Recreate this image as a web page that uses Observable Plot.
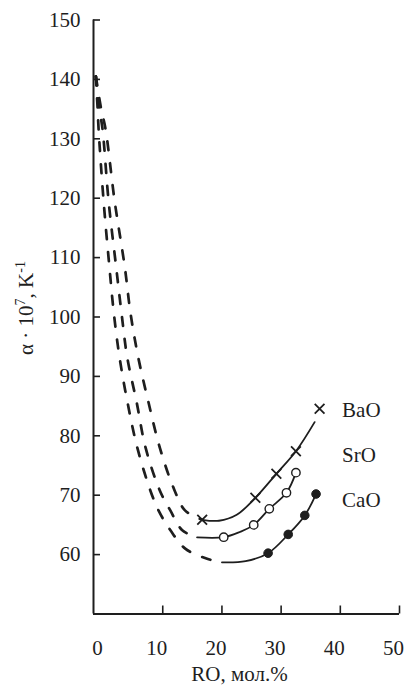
<!DOCTYPE html>
<html><head><meta charset="utf-8">
<script src="https://cdn.jsdelivr.net/npm/d3@7"></script>
<script src="https://cdn.jsdelivr.net/npm/@observablehq/plot@0.6"></script>
<style>
html,body{margin:0;padding:0;background:#fff;}
#chart{width:412px;height:685px;}
</style></head><body><div id="chart"></div>
<script>
// ---- data ----
const xDomain = [-1.7, 50];
const yDomain = [50, 150];
const xTickValues = [10, 20, 30, 40, 50];
const xTickLabels = [0, 10, 20, 30, 40, 50];
const yTickValues = [60, 70, 80, 90, 100, 110, 120, 130, 140, 150];

const seriesNames = ["BaO", "SrO", "CaO"];

// dashed (extrapolated) branches
const baoDashX = [-1.3, -0.4, 0.34, 1.86, 3.6, 4.56, 5.86, 7.6, 9.5, 12.0, 13.8, 16.66];
const baoDashY = [140.5, 135, 131.6, 119.6, 108.3, 100.6, 93.2, 85.6, 78.0, 70.8, 67.4, 65.86];
const sroDashX = [-1.3, -0.7, -0.17, 0.84, 2.14, 3.04, 4.0, 5.6, 7.1, 9.5, 11.3, 13.3, 15.8];
const sroDashY = [140.5, 135, 131.6, 119.6, 108.3, 100.6, 93.2, 85.6, 78.0, 70.8, 67.4, 64.1, 62.9];
const caoDashX = [-1.3, -1.0, -0.84, 0.0, 1.0, 1.74, 2.7, 4.05, 5.7, 7.9, 9.3, 11.3, 13.8, 17.5, 20.0];
const caoDashY = [140.5, 135, 131.6, 119.6, 108.3, 100.6, 93.2, 85.6, 78.0, 70.8, 67.4, 64.1, 61.0, 59.3, 58.7];

// solid (measured) branches
const baoSolidX = [16.66, 19.5, 22.5, 25.65, 29.2, 32.5, 35.66];
const baoSolidY = [65.86, 65.7, 66.7, 69.56, 73.6, 77.4, 82.3];
const sroSolidX = [15.8, 20.3, 23.0, 25.37, 28.0, 30.9, 32.5];
const sroSolidY = [62.9, 62.93, 63.8, 65.0, 67.7, 70.4, 73.8];
const caoSolidX = [20.0, 24.0, 27.8, 31.2, 34.0, 35.9];
const caoSolidY = [58.7, 58.9, 60.24, 63.4, 66.6, 70.2];

// measured points
const baoPointX = [16.66, 25.65, 29.2, 32.5, 36.5];
const baoPointY = [65.86, 69.56, 73.6, 77.4, 84.55];
const sroPointX = [20.3, 25.37, 28.0, 30.9, 32.5];
const sroPointY = [62.93, 65.0, 67.7, 70.4, 73.8];
const caoPointX = [27.8, 31.2, 34.0, 35.9];
const caoPointY = [60.24, 63.4, 66.6, 70.2];

// series labels
const labelX = [40.3, 40.3, 40.3];
const labelY = [84.3, 76.7, 69.1];

const xTitle = "RO, мол.%";

// ---- build tables ----
const zip = (name, xs, ys) => xs.map((x, i) => ({s: name, x, y: ys[i]}));
const dashed = [
  ...zip("BaO", baoDashX, baoDashY),
  ...zip("SrO", sroDashX, sroDashY),
  ...zip("CaO", caoDashX, caoDashY)
];
const solid = [
  ...zip("BaO", baoSolidX, baoSolidY),
  ...zip("SrO", sroSolidX, sroSolidY),
  ...zip("CaO", caoSolidX, caoSolidY)
];
const baoPts = zip("BaO", baoPointX, baoPointY);
const sroPts = zip("SrO", sroPointX, sroPointY);
const caoPts = zip("CaO", caoPointX, caoPointY);
const labels = seriesNames.map((n, i) => ({n, x: labelX[i], y: labelY[i]}));

const FONT = "'Liberation Serif', 'Times New Roman', serif";
const INK = "#1e1e1e";

const chart = Plot.plot({
  width: 412,
  height: 685,
  marginLeft: 93,
  marginRight: 13,
  marginTop: 19.5,
  marginBottom: 71.5,
  style: {fontFamily: FONT, fontSize: "21px", color: INK, background: "#fff"},
  x: {domain: xDomain, label: null},
  y: {domain: yDomain, label: null},
  marks: [
    Plot.ruleX([xDomain[0]], {stroke: INK, strokeWidth: 2}),
    Plot.ruleY([yDomain[0]], {stroke: INK, strokeWidth: 2}),
    Plot.axisY(yTickValues, {text: null, tickSize: -7, stroke: INK, strokeWidth: 1.6, label: null}),
    Plot.axisY(yTickValues, {tickSize: 0, tickPadding: 13, fontSize: 21, fontFamily: FONT, fill: INK, label: null}),
    Plot.axisX(xTickValues, {text: null, tickSize: -8, stroke: INK, strokeWidth: 1.6, label: null}),
    Plot.axisX(xTickLabels, {tickSize: 0, tickPadding: 26, dx: -6, fontSize: 21, fontFamily: FONT, fill: INK, label: null}),
    Plot.line(dashed, {x: "x", y: "y", z: "s", curve: "catmull-rom", stroke: INK, strokeWidth: 2.7, strokeDasharray: "9,13"}),
    Plot.line(solid, {x: "x", y: "y", z: "s", curve: "catmull-rom", stroke: INK, strokeWidth: 1.8}),
    Plot.dot(baoPts, {x: "x", y: "y", symbol: "times", r: 4.5, stroke: INK, strokeWidth: 1.8}),
    Plot.dot(sroPts, {x: "x", y: "y", symbol: "circle", r: 4.2, fill: "#fff", stroke: INK, strokeWidth: 1.4}),
    Plot.dot(caoPts, {x: "x", y: "y", symbol: "circle", r: 4.3, fill: INK, stroke: INK, strokeWidth: 1}),
    Plot.text(labels, {x: "x", y: "y", text: "n", textAnchor: "start", fontSize: 21, fontFamily: FONT, fill: INK}),
    Plot.text([xTitle], {frameAnchor: "bottom", lineAnchor: "middle", dy: 60, dx: -7, fontSize: 21, fontFamily: FONT, fill: INK})
  ]
});
document.getElementById("chart").appendChild(chart);

// y-axis title with superscripts (real text)
const svg = d3.select(chart);
const yt = svg.append("text")
  .attr("transform", "translate(33,308) rotate(-90)")
  .attr("text-anchor", "middle")
  .attr("font-family", FONT)
  .attr("font-size", 21)
  .attr("fill", INK);
yt.append("tspan").text("α · 10");
yt.append("tspan").attr("font-size", 14).attr("dy", -8).text("7");
yt.append("tspan").attr("dy", 8).text(", K");
yt.append("tspan").attr("font-size", 14).attr("dy", -8).text("-1");
</script>
</body></html>
